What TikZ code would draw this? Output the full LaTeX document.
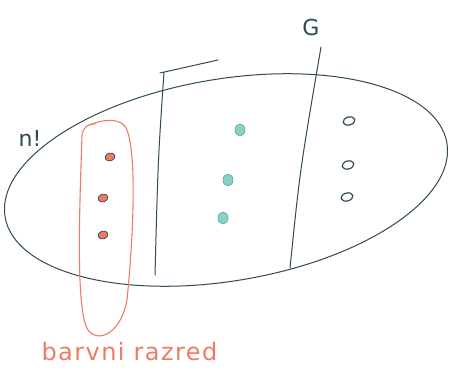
\documentclass[tikz,border=0pt]{standalone}
\usepackage{fontspec}
\setmainfont{DejaVu Sans}
\usetikzlibrary{shapes.geometric}
\definecolor{ink}{HTML}{2E4A55}
\definecolor{redink}{HTML}{F07A64}
\definecolor{tealink}{HTML}{86D2C4}
\begin{document}
\begin{tikzpicture}[x=1pt,y=-1pt,
  stroke/.style={draw=ink,line width=1pt,line cap=round},
  redstroke/.style={draw=redink,line width=1.1pt,line cap=round},
  reddot/.style={ellipse,fill=redink,draw=ink,line width=0.7pt,minimum width=10pt,minimum height=8pt,inner sep=0pt,rotate=20},
  tealdot/.style={ellipse,fill=tealink,draw=tealink!60!ink,line width=0.6pt,minimum width=10pt,minimum height=12pt,inner sep=0pt},
  opendot/.style={ellipse,draw=ink,line width=1.2pt,minimum width=12pt,minimum height=8pt,inner sep=0pt,rotate=15},
  hand/.style={font=\fontsize{22}{24}\selectfont}]
\useasboundingbox (0,0) rectangle (449,385);
% big ellipse
\draw[stroke] (226,180) ellipse[x radius=224, y radius=101, rotate=9.5];
% vertical separators
\coordinate (l1t) at (164,72);
\coordinate (l1b) at (155,275);
\coordinate (bar) at (218,60);
\coordinate (l2t) at (321,47);
\coordinate (l2b) at (290,268);
\draw[stroke] (l1t) .. controls (158,160) .. (l1b);
\draw[stroke] (160,73) -- (bar);
\draw[stroke] (l2t) .. controls (300,170) .. (l2b);
% red colour class loop
\draw[redstroke] (90,125) .. controls (100,120) and (122,116) .. (127,130)
  .. controls (138,160) and (132,250) .. (127,300)
  .. controls (122,330) and (100,345) .. (88,330)
  .. controls (75,310) and (80,200) .. (82,135)
  .. controls (84,126) and (88,124) .. (95,124);
% dots
\node[reddot] (r1) at (110,157) {};
\node[reddot] (r2) at (103,198) {};
\node[reddot] (r3) at (103,235) {};
\node[tealdot] (t1) at (240,130) {};
\node[tealdot] (t2) at (228,180) {};
\node[tealdot] (t3) at (223,218) {};
\node[opendot] (o1) at (349,121) {};
\node[opendot] (o2) at (348,165) {};
\node[opendot] (o3) at (347,197) {};
% labels
\node[hand,text=ink] (g) at (311,27) {G};
\node[hand,text=ink] (n) at (30,138) {n!};
\node[font=\fontsize{24}{26}\selectfont\addfontfeatures{LetterSpace=6},text=redink,anchor=west] (lab) at (38,352) {barvni razred};
\end{tikzpicture}
\end{document}
